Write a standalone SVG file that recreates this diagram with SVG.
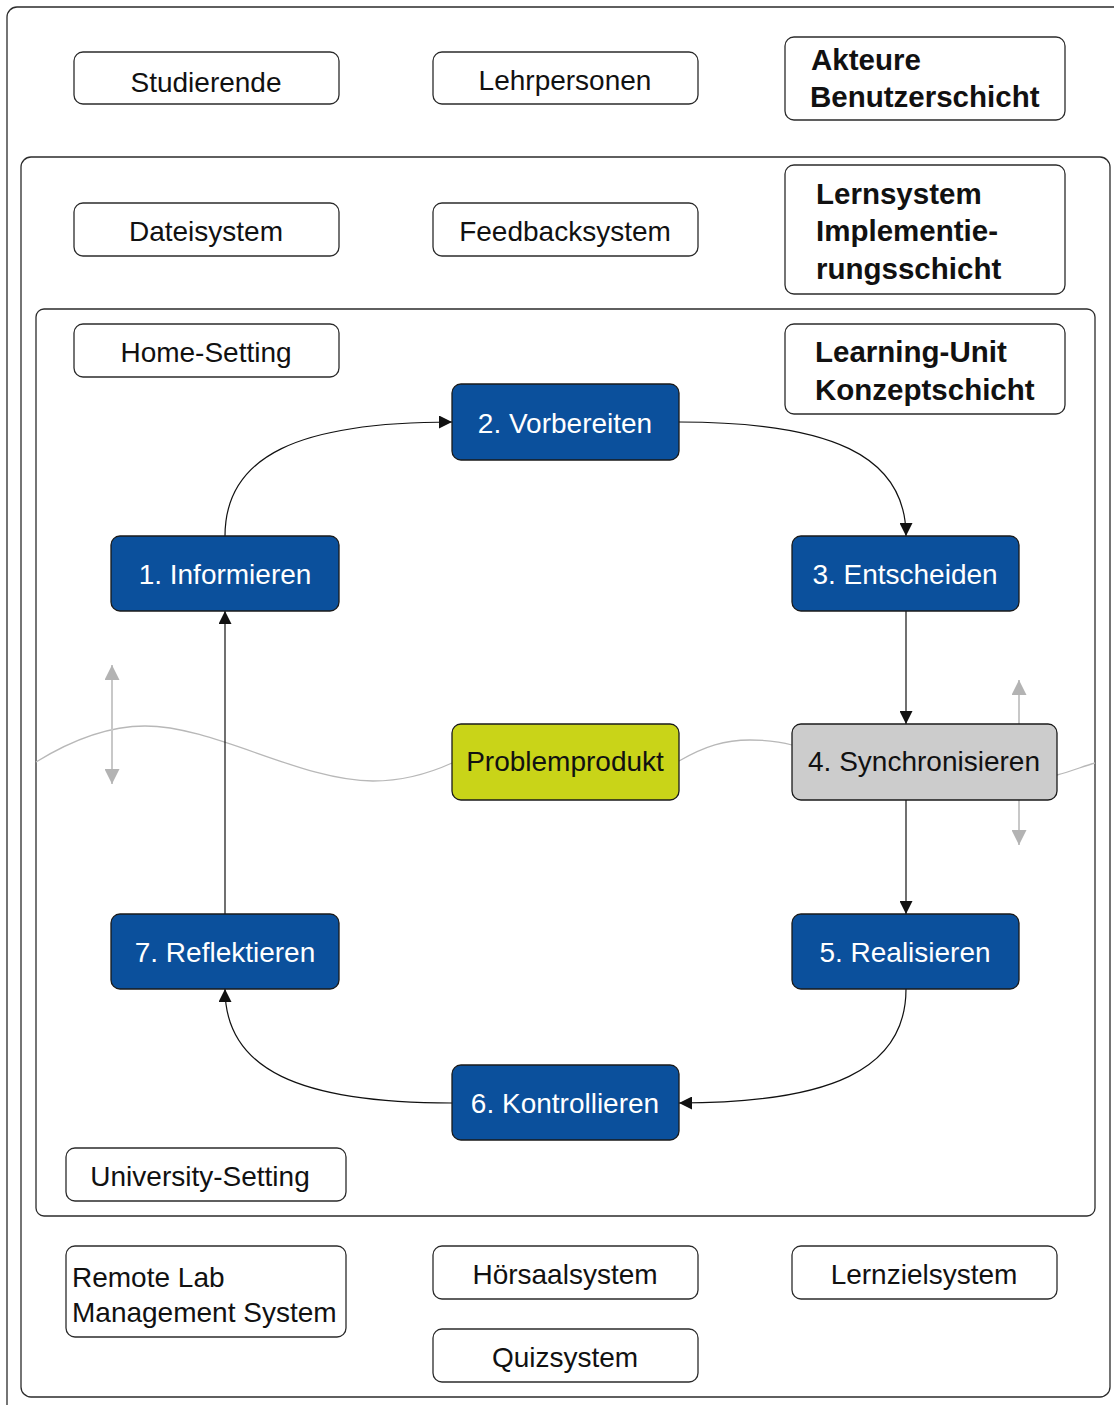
<svg xmlns="http://www.w3.org/2000/svg" width="1114" height="1405" viewBox="0 0 1114 1405">
  <style>
    .frame { fill: none; stroke: #2b2b2b; stroke-width: 1.3; }
    .box { fill: #ffffff; stroke: #2b2b2b; stroke-width: 1.3; }
    .step { fill: #0b509c; stroke: #1a1a1a; stroke-width: 1.3; }
    .prod { fill: #c9d418; stroke: #1a1a1a; stroke-width: 1.3; }
    .sync { fill: #cccccc; stroke: #1a1a1a; stroke-width: 1.3; }
    text { font-family: "Liberation Sans", "DejaVu Sans", sans-serif; font-size: 28px; fill: #111111; }
    .c { text-anchor: middle; }
    .w { fill: #ffffff; }
    .b { font-weight: bold; font-size: 29.5px; }
    .edge { fill: none; stroke: #111111; stroke-width: 1.2; }
    .wave { fill: none; stroke: #b8b8b8; stroke-width: 1.3; }
    .move { fill: none; stroke: #c8c8c8; stroke-width: 2; }
  </style>
  <defs>
    <marker id="arr" viewBox="0 0 10 10" refX="10" refY="5" markerWidth="14" markerHeight="13" markerUnits="userSpaceOnUse" orient="auto">
      <path d="M0,0 L10,5 L0,10 z" fill="#111111"/>
    </marker>
    <marker id="garr" viewBox="0 0 10 10" refX="10" refY="5" markerWidth="15" markerHeight="15" markerUnits="userSpaceOnUse" orient="auto">
      <path d="M0,0 L10,5 L0,10 z" fill="#b3b3b3"/>
    </marker>
    <marker id="garrs" viewBox="0 0 10 10" refX="0" refY="5" markerWidth="15" markerHeight="15" markerUnits="userSpaceOnUse" orient="auto">
      <path d="M10,0 L0,5 L10,10 z" fill="#b3b3b3"/>
    </marker>
  </defs>

  <!-- layer frames -->
  <g id="layers">
    <rect class="frame" x="7" y="7" width="1130" height="1420" rx="10"/>
    <rect class="frame" x="21" y="157" width="1089" height="1240" rx="10"/>
    <rect class="frame" x="36" y="309" width="1059" height="907" rx="8"/>
  </g>

  <!-- wave of the setting boundary and movement arrows -->
  <g id="boundary">
    <path class="wave" d="M36,762 C75,738 110,726 145,726 C215,726 300,781 373,781 C405,781 430,773 452,763"/>
    <path class="wave" d="M679,761 C705,746 725,740 750,740 C770,740 782,742 792,745"/>
    <path class="wave" d="M1057,775 C1072,771 1084,766 1095,763"/>
    <path class="move" d="M112,665 L112,784" marker-start="url(#garrs)" marker-end="url(#garr)"/>
    <path class="move" d="M1019,760 L1019,680" marker-end="url(#garr)"/>
    <path class="move" d="M1019,760 L1019,845" marker-end="url(#garr)"/>
  </g>

  <!-- cycle connectors -->
  <g id="connectors">
    <path class="edge" d="M225,536 C225,455 300,422 452,422" marker-end="url(#arr)"/>
    <path class="edge" d="M679,422 C830,422 906,455 906,536" marker-end="url(#arr)"/>
    <path class="edge" d="M906,611 L906,724" marker-end="url(#arr)"/>
    <path class="edge" d="M906,800 L906,914" marker-end="url(#arr)"/>
    <path class="edge" d="M906,989 C906,1070 830,1103 679,1103" marker-end="url(#arr)"/>
    <path class="edge" d="M452,1103 C300,1103 225,1070 225,989" marker-end="url(#arr)"/>
    <path class="edge" d="M225,914 L225,611" marker-end="url(#arr)"/>
  </g>

  <!-- actor layer -->
  <g id="studierende"><rect class="box" x="74" y="52" width="265" height="52" rx="9"/><text class="c" x="206" y="92">Studierende</text></g>
  <g id="lehrpersonen"><rect class="box" x="433" y="52" width="265" height="52" rx="9"/><text class="c" x="565" y="90">Lehrpersonen</text></g>
  <g id="akteure"><rect class="box" x="785" y="37" width="280" height="83" rx="9"/><text class="b" x="811" y="70">Akteure</text><text class="b" x="810" y="107">Benutzerschicht</text></g>

  <!-- implementation layer -->
  <g id="dateisystem"><rect class="box" x="74" y="203" width="265" height="53" rx="9"/><text class="c" x="206" y="241">Dateisystem</text></g>
  <g id="feedbacksystem"><rect class="box" x="433" y="203" width="265" height="53" rx="9"/><text class="c" x="565" y="241">Feedbacksystem</text></g>
  <g id="lernsystem"><rect class="box" x="785" y="165" width="280" height="129" rx="9"/><text class="b" x="816" y="204">Lernsystem</text><text class="b" x="816" y="241">Implementie-</text><text class="b" x="816" y="279">rungsschicht</text></g>

  <!-- concept layer -->
  <g id="home-setting"><rect class="box" x="74" y="324" width="265" height="53" rx="9"/><text class="c" x="206" y="362">Home-Setting</text></g>
  <g id="learning-unit"><rect class="box" x="785" y="324" width="280" height="90" rx="9"/><text class="b" x="815" y="362">Learning-Unit</text><text class="b" x="815" y="400">Konzeptschicht</text></g>

  <g id="vorbereiten"><rect class="step" x="452" y="384" width="227" height="76" rx="9"/><text class="c w" x="565" y="433">2. Vorbereiten</text></g>
  <g id="informieren"><rect class="step" x="111" y="536" width="228" height="75" rx="9"/><text class="c w" x="225" y="584">1. Informieren</text></g>
  <g id="entscheiden"><rect class="step" x="792" y="536" width="227" height="75" rx="9"/><text class="c w" x="905" y="584">3. Entscheiden</text></g>
  <g id="problemprodukt"><rect class="prod" x="452" y="724" width="227" height="76" rx="9"/><text class="c" x="565" y="771">Problemprodukt</text></g>
  <g id="synchronisieren"><rect class="sync" x="792" y="724" width="265" height="76" rx="9"/><text class="c" x="924" y="771">4. Synchronisieren</text></g>
  <g id="reflektieren"><rect class="step" x="111" y="914" width="228" height="75" rx="9"/><text class="c w" x="225" y="962">7. Reflektieren</text></g>
  <g id="realisieren"><rect class="step" x="792" y="914" width="227" height="75" rx="9"/><text class="c w" x="905" y="962">5. Realisieren</text></g>
  <g id="kontrollieren"><rect class="step" x="452" y="1065" width="227" height="75" rx="9"/><text class="c w" x="565" y="1113">6. Kontrollieren</text></g>

  <g id="university-setting"><rect class="box" x="66" y="1148" width="280" height="53" rx="9"/><text class="c" x="200" y="1186">University-Setting</text></g>

  <!-- lower implementation systems -->
  <g id="remote-lab"><rect class="box" x="66" y="1246" width="280" height="91" rx="9"/><text x="72" y="1287">Remote Lab</text><text x="72" y="1322">Management System</text></g>
  <g id="hoersaalsystem"><rect class="box" x="433" y="1246" width="265" height="53" rx="9"/><text class="c" x="565" y="1284">Hörsaalsystem</text></g>
  <g id="lernzielsystem"><rect class="box" x="792" y="1246" width="265" height="53" rx="9"/><text class="c" x="924" y="1284">Lernzielsystem</text></g>
  <g id="quizsystem"><rect class="box" x="433" y="1329" width="265" height="53" rx="9"/><text class="c" x="565" y="1367">Quizsystem</text></g>
</svg>
